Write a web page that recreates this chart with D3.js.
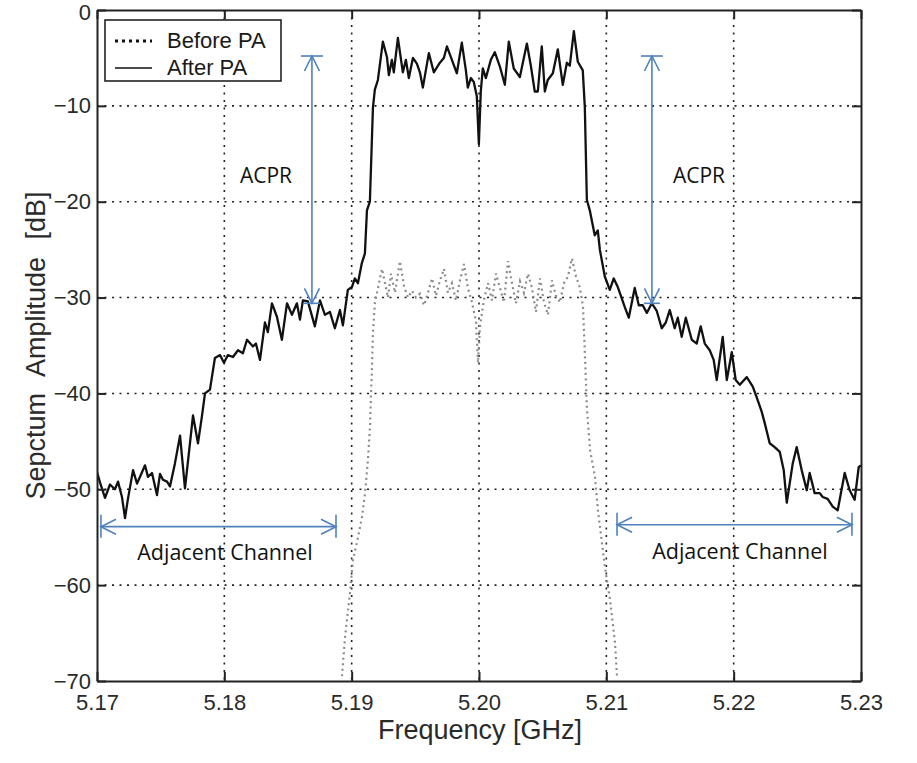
<!DOCTYPE html>
<html>
<head>
<meta charset="utf-8">
<script src="https://cdn.jsdelivr.net/npm/d3@7"></script>
<style>
  body { margin: 0; background: #fff; }
  svg { display: block; }
</style>
</head>
<body>
<div id="chart"></div>
<script>
// spectrum after the power amplifier (solid line)
let freqAfter = [5.17000, 5.17024, 5.17063, 5.17102, 5.17141, 5.17165, 5.17196, 5.17220, 5.17243, 5.17283,
  5.17314, 5.17338, 5.17377, 5.17400, 5.17432, 5.17471, 5.17495, 5.17518, 5.17550, 5.17573,
  5.17612, 5.17652, 5.17691, 5.17730, 5.17754, 5.17793, 5.17824, 5.17848, 5.17887, 5.17926,
  5.17966, 5.17997, 5.18028, 5.18068, 5.18107, 5.18146, 5.18178, 5.18225, 5.18248, 5.18280,
  5.18319, 5.18342, 5.18374, 5.18413, 5.18452, 5.18492, 5.18531, 5.18570, 5.18594, 5.18617,
  5.18656, 5.18711, 5.18751, 5.18790, 5.18829, 5.18868, 5.18908, 5.18931, 5.18970, 5.19002,
  5.19025, 5.19049, 5.19080, 5.19104, 5.19120, 5.19143, 5.19167, 5.19182, 5.19206, 5.19245,
  5.19277, 5.19292, 5.19316, 5.19331, 5.19363, 5.19402, 5.19426, 5.19449, 5.19481, 5.19512,
  5.19536, 5.19559, 5.19606, 5.19645, 5.19693, 5.19724, 5.19748, 5.19795, 5.19826, 5.19865,
  5.19897, 5.19912, 5.19936, 5.19959, 5.19983, 5.19999, 5.20014, 5.20030, 5.20054, 5.20093,
  5.20124, 5.20164, 5.20203, 5.20234, 5.20273, 5.20321, 5.20376, 5.20407, 5.20438, 5.20462,
  5.20493, 5.20517, 5.20540, 5.20580, 5.20619, 5.20658, 5.20690, 5.20713, 5.20745, 5.20776,
  5.20815, 5.20831, 5.20847, 5.20870, 5.20909, 5.20933, 5.20949, 5.20988, 5.21027, 5.21058,
  5.21090, 5.21106, 5.21145, 5.21176, 5.21223, 5.21255, 5.21286, 5.21318, 5.21357, 5.21396,
  5.21435, 5.21467, 5.21498, 5.21537, 5.21561, 5.21592, 5.21624, 5.21671, 5.21710, 5.21741,
  5.21773, 5.21812, 5.21843, 5.21867, 5.21914, 5.21946, 5.21985, 5.22016, 5.22048, 5.22103,
  5.22150, 5.22181, 5.22220, 5.22244, 5.22283, 5.22322, 5.22362, 5.22393, 5.22417, 5.22464,
  5.22495, 5.22534, 5.22574, 5.22597, 5.22636, 5.22676, 5.22699, 5.22738, 5.22778, 5.22817,
  5.22848, 5.22872, 5.22911, 5.22950, 5.22982, 5.23000]
let dbAfter = [-48.2, -49.3, -50.9, -49.5, -50.0, -49.2, -50.8, -53.0, -51.0, -48.0,
  -49.4, -48.7, -47.5, -48.7, -48.3, -50.6, -48.4, -49.0, -49.2, -49.7,
  -47.3, -44.4, -49.9, -45.2, -42.3, -45.2, -42.4, -40.0, -39.6, -36.3,
  -36.0, -36.8, -36.0, -36.2, -35.5, -35.8, -34.4, -35.1, -34.8, -36.5,
  -32.6, -33.6, -30.6, -32.0, -34.4, -30.6, -31.8, -30.6, -32.3, -30.3,
  -30.4, -33.0, -30.3, -31.8, -31.5, -33.2, -31.3, -32.9, -29.2, -28.9,
  -28.0, -28.5, -26.4, -25.4, -20.9, -20.0, -10.2, -8.3, -7.3, -3.3,
  -4.9, -6.8, -5.2, -6.5, -2.9, -6.5, -5.2, -7.1, -5.0, -5.6,
  -6.5, -8.1, -4.5, -6.5, -5.5, -5.0, -3.8, -5.5, -6.6, -3.4,
  -6.3, -8.1, -7.1, -7.5, -9.0, -14.0, -8.5, -6.1, -7.1, -5.2,
  -4.4, -5.9, -7.8, -3.3, -6.1, -7.0, -3.5, -5.8, -8.5, -8.5,
  -3.8, -8.5, -7.3, -6.6, -4.1, -7.8, -5.5, -5.8, -2.2, -5.4,
  -6.3, -10.1, -19.8, -20.9, -23.5, -23.0, -25.0, -27.8, -29.2, -28.0,
  -28.9, -29.5, -31.0, -32.1, -29.0, -30.8, -30.8, -31.6, -30.6, -31.4,
  -33.2, -32.6, -31.3, -33.2, -32.1, -34.1, -32.1, -34.4, -34.8, -33.0,
  -34.8, -35.5, -36.5, -38.6, -34.1, -38.6, -35.7, -38.6, -39.1, -38.3,
  -39.3, -40.4, -41.9, -43.1, -45.2, -45.6, -46.1, -48.0, -51.4, -47.3,
  -45.6, -48.0, -50.1, -48.3, -50.4, -50.4, -50.8, -51.0, -51.8, -52.2,
  -50.0, -48.3, -50.1, -51.1, -47.7, -47.5]

// spectrum before the power amplifier (dotted line)
let freqBefore = [5.18924, 5.18948, 5.18987, 5.19010, 5.19050, 5.19081, 5.19105, 5.19128, 5.19144, 5.19152,
  5.19160, 5.19167, 5.19183, 5.19207, 5.19238, 5.19262, 5.19285, 5.19309, 5.19340, 5.19379,
  5.19411, 5.19442, 5.19474, 5.19505, 5.19537, 5.19568, 5.19599, 5.19631, 5.19662, 5.19694,
  5.19725, 5.19756, 5.19788, 5.19819, 5.19851, 5.19882, 5.19913, 5.19945, 5.19976, 5.19992,
  5.20008, 5.20039, 5.20071, 5.20102, 5.20133, 5.20165, 5.20196, 5.20228, 5.20259, 5.20290,
  5.20322, 5.20353, 5.20385, 5.20416, 5.20447, 5.20479, 5.20510, 5.20542, 5.20573, 5.20604,
  5.20636, 5.20667, 5.20699, 5.20730, 5.20762, 5.20793, 5.20817, 5.20832, 5.20848, 5.20872,
  5.20911, 5.20934, 5.20989, 5.21029, 5.21068, 5.21084]
let dbBefore = [-69.5, -65.4, -60.8, -57.4, -55.0, -52.9, -50.4, -46.9, -43.5, -40.0,
  -37.2, -33.6, -30.5, -29.0, -27.0, -28.5, -30.0, -27.5, -29.5, -26.2,
  -28.8, -30.0, -29.3, -30.0, -29.6, -30.8, -29.5, -28.0, -29.8, -28.2,
  -27.0, -29.5, -28.5, -30.3, -28.2, -26.5, -29.0, -30.5, -32.5, -36.8,
  -33.0, -30.2, -28.5, -30.3, -27.5, -29.0, -30.5, -26.2, -28.5, -30.6,
  -28.3, -29.5, -27.5, -29.0, -31.5, -28.0, -30.5, -31.8, -28.2, -29.8,
  -30.5, -28.5, -27.8, -25.9, -27.8, -29.0, -31.0, -36.0, -41.7, -45.9,
  -48.7, -52.2, -58.1, -61.5, -66.0, -69.5]

let xTicks = [5.17, 5.18, 5.19, 5.20, 5.21, 5.22, 5.23]
let yTicks = [0, -10, -20, -30, -40, -50, -60, -70]
let legendLabels = ['Before PA', 'After PA']

// annotation positions, in data units
let acprFreq = [5.18688, 5.21358]
let acprRange = [-4.8, -30.6]
let acprLabelFreq = [5.18327, 5.21728]
let acprLabelDb = -18.05
let adjFreq = [[5.17031, 5.18877], [5.21084, 5.22929]]
let adjDb = [-53.9, -53.7]
let adjLabelFreq = [5.18005, 5.22049]
let adjLabelDb = [-57.4, -57.3]

////////////////////
let W = 917, H = 763
let margin = {left: 97, top: 10, right: 56, bottom: 82}
let iw = W - margin.left - margin.right
let ih = H - margin.top - margin.bottom
let blue = '#4f81bd'
let helv = '"Liberation Sans", Arial, Helvetica, sans-serif'
let calib = '"Open Sans", "Noto Sans", sans-serif'

let svg = d3.select('#chart')
  .append('svg')
  .attr('width', W)
  .attr('height', H)
  .attr('xmlns', 'http://www.w3.org/2000/svg')

let x = d3.scaleLinear().domain([5.17, 5.23]).range([0, iw])
let y = d3.scaleLinear().domain([-70, 0]).range([ih, 0])

let g = svg.append('g')
  .attr('transform', `translate(${margin.left},${margin.top})`)

g.append('clipPath').attr('id', 'clip')
  .append('rect').attr('width', iw).attr('height', ih)

// grid
let grid = g.append('g')
  .attr('stroke', '#222')
  .attr('stroke-width', 1.6)
  .attr('stroke-dasharray', '2,5.5')
grid.selectAll('.gx')
  .data(xTicks.slice(1, -1))
  .join('line')
  .attr('x1', d => x(d)).attr('x2', d => x(d))
  .attr('y1', 0).attr('y2', ih)
grid.selectAll('.gy')
  .data(yTicks.slice(1, -1))
  .join('line')
  .attr('x1', 0).attr('x2', iw)
  .attr('y1', d => y(d)).attr('y2', d => y(d))

// curves
let line = d3.line()
  .x(d => x(d[0]))
  .y(d => y(d[1]))

g.append('path')
  .attr('clip-path', 'url(#clip)')
  .attr('d', line(d3.zip(freqBefore, dbBefore)))
  .attr('fill', 'none')
  .attr('stroke', '#8c8c8c')
  .attr('stroke-width', 2.2)
  .attr('stroke-dasharray', '2,3.5')

g.append('path')
  .attr('clip-path', 'url(#clip)')
  .attr('d', line(d3.zip(freqAfter, dbAfter)))
  .attr('fill', 'none')
  .attr('stroke', '#111')
  .attr('stroke-width', 2.3)
  .attr('stroke-linejoin', 'round')

// axes, ticks pointing inwards on all four sides
function styleAxis(sel) {
  sel.select('.domain').attr('stroke', '#222').attr('stroke-width', 2)
  sel.selectAll('.tick line').attr('stroke', '#222').attr('stroke-width', 2)
  sel.selectAll('text')
    .attr('fill', '#2a2a2a')
    .style('font-family', helv)
    .style('font-size', '22px')
}

g.append('g')
  .attr('transform', `translate(0,${ih})`)
  .call(d3.axisBottom(x).tickValues(xTicks).tickFormat(d3.format('.2f'))
    .tickSizeInner(-9).tickSizeOuter(0).tickPadding(13))
  .call(styleAxis)
g.append('g')
  .call(d3.axisTop(x).tickValues(xTicks).tickFormat('')
    .tickSizeInner(-9).tickSizeOuter(0))
  .call(styleAxis)
let yAxis = g.append('g')
  .call(d3.axisLeft(y).tickValues(yTicks).tickFormat(d3.format('d'))
    .tickSizeInner(-9).tickSizeOuter(0).tickPadding(6))
  .call(styleAxis)
// keep the top "0" label inside the picture
yAxis.selectAll('.tick text').filter(d => d == 0).attr('dy', '0.42em')
g.append('g')
  .attr('transform', `translate(${iw},0)`)
  .call(d3.axisRight(y).tickValues(yTicks).tickFormat('')
    .tickSizeInner(-9).tickSizeOuter(0))
  .call(styleAxis)

// axis titles
svg.append('text')
  .attr('x', margin.left + iw / 2 + 1)
  .attr('y', 739)
  .attr('text-anchor', 'middle')
  .attr('fill', '#2a2a2a')
  .style('font-family', helv)
  .style('font-size', '27px')
  .text('Frequency [GHz]')

svg.append('text')
  .attr('transform', `translate(45,${margin.top + ih / 2}) rotate(-90)`)
  .attr('text-anchor', 'middle')
  .attr('fill', '#2a2a2a')
  .style('font-family', helv)
  .style('font-size', '27px')
  .style('word-spacing', '10px')
  .text('Sepctum Amplitude [dB]')

// legend
let leg = g.append('g').attr('transform', 'translate(8,10)')
leg.append('rect')
  .attr('width', 176).attr('height', 61)
  .attr('fill', '#fff').attr('stroke', '#222').attr('stroke-width', 1.6)
leg.selectAll('line')
  .data(legendLabels)
  .join('line')
  .attr('x1', 10).attr('x2', 47)
  .attr('y1', (d, i) => 21 + i * 27).attr('y2', (d, i) => 21 + i * 27)
  .attr('stroke', '#111')
  .attr('stroke-width', (d, i) => i == 0 ? 3 : 1.3)
  .attr('stroke-dasharray', (d, i) => i == 0 ? '3,4' : null)
leg.selectAll('text')
  .data(legendLabels)
  .join('text')
  .attr('x', 62)
  .attr('y', (d, i) => 28 + i * 27)
  .attr('fill', '#1a1a1a')
  .style('font-family', helv)
  .style('font-size', '22px')
  .text(d => d)

// blue annotations
let ann = g.append('g')
  .attr('stroke', blue)
  .attr('stroke-width', 1.6)
  .attr('fill', 'none')

function arrowHead(px, py, dx, dy) {
  // open "V" arrow head with its tip at (px, py), pointing along (dx, dy)
  let L = 15, Wd = 7.5
  let bx = px - dx * L, by = py - dy * L
  return `M${bx - dy * Wd},${by + dx * Wd}L${px},${py}L${bx + dy * Wd},${by - dx * Wd}`
}

acprFreq.forEach(f => {
  let px = x(f), t = y(acprRange[0]), b = y(acprRange[1])
  ann.append('line').attr('x1', px).attr('x2', px).attr('y1', t).attr('y2', b)
  ann.append('line').attr('x1', px - 11).attr('x2', px + 11).attr('y1', t).attr('y2', t)
  ann.append('line').attr('x1', px - 8).attr('x2', px + 8).attr('y1', b).attr('y2', b)
  ann.append('path').attr('d', arrowHead(px, t, 0, -1))
  ann.append('path').attr('d', arrowHead(px, b, 0, 1))
})

adjFreq.forEach((r, i) => {
  let l = x(r[0]), rr = x(r[1]), py = y(adjDb[i])
  ann.append('line').attr('x1', l).attr('x2', rr).attr('y1', py).attr('y2', py)
  ann.append('line').attr('x1', l).attr('x2', l).attr('y1', py - 12).attr('y2', py + 11)
  ann.append('line').attr('x1', rr).attr('x2', rr).attr('y1', py - 12).attr('y2', py + 11)
  ann.append('path').attr('d', arrowHead(l, py, -1, 0))
  ann.append('path').attr('d', arrowHead(rr, py, 1, 0))
})

g.selectAll('.acpr')
  .data(acprLabelFreq)
  .join('text')
  .attr('x', d => x(d))
  .attr('y', y(acprLabelDb))
  .attr('text-anchor', 'middle')
  .attr('fill', '#111')
  .style('font-family', calib)
  .style('font-size', '21px')
  .text('ACPR')

g.selectAll('.adj')
  .data(adjLabelFreq)
  .join('text')
  .attr('x', d => x(d))
  .attr('y', (d, i) => y(adjLabelDb[i]))
  .attr('text-anchor', 'middle')
  .attr('fill', '#111')
  .style('font-family', calib)
  .style('font-size', '21.5px')
  .text('Adjacent Channel')
</script>
</body>
</html>
